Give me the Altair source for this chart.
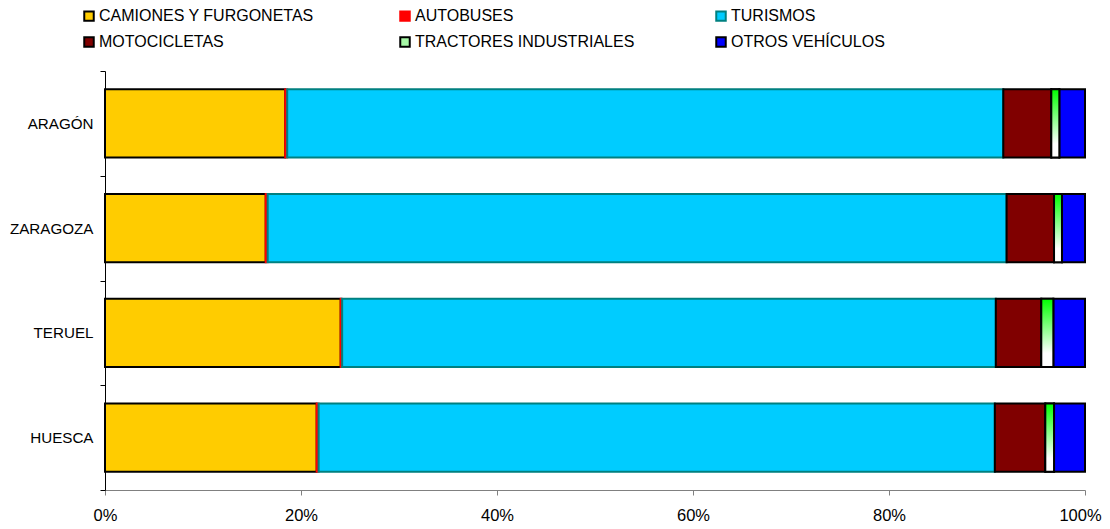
import altair as alt
import pandas as pd

regions = ["ARAGÓN", "ZARAGOZA", "TERUEL", "HUESCA"]
series = ["CAMIONES Y FURGONETAS", "AUTOBUSES", "TURISMOS",
          "MOTOCICLETAS", "TRACTORES INDUSTRIALES", "OTROS VEHÍCULOS"]

camiones = [18.4, 16.4, 24.05, 21.6]
autobuses = [0.2, 0.2, 0.15, 0.2]
turismos = [73.1, 75.4, 66.7, 69.0]
motocicletas = [4.9, 4.84, 4.64, 5.15]
tractores = [0.82, 0.81, 1.23, 0.89]
otros = [2.62, 2.35, 3.23, 3.16]

fills = ["#FFCC00", "#FF0000", "#00CCFF", "#800000", "#A6F7A6", "#0000FF"]
strokes = ["#000000", "#FF0000", "#008080", "#000000", "#000000", "#000000"]

values_by_series = [camiones, autobuses, turismos, motocicletas, tractores, otros]
rows = []
for i, r in enumerate(regions):
    for j, s in enumerate(series):
        rows.append({"region": r, "serie": s, "orden": j, "valor": values_by_series[j][i]})
df = pd.DataFrame(rows)

leg = alt.Legend(
    title=None, orient="none", legendX=-24, legendY=-63, direction="horizontal",
    columns=3, columnPadding=77, rowPadding=8, gridAlign="all",
    symbolType="square", symbolSize=90, symbolStrokeWidth=2,
    labelFontSize=16, labelFont="Liberation Sans", labelColor="black",
    labelOffset=2, padding=0, labelLimit=400,
)

base = alt.Chart(df).transform_stack(
    stack="valor", groupby=["region"],
    sort=[alt.SortField("orden", order="ascending")],
    offset="normalize", as_=["x0", "x1"],
)

x_enc = alt.X(
    "x0:Q",
    scale=alt.Scale(domain=[0, 1], nice=False, zero=True),
    axis=alt.Axis(
        title=None, format=".0%", values=[0, 0.2, 0.4, 0.6, 0.8, 1.0], grid=False,
        domainColor="#808080", tickColor="#808080", tickSize=5, labelPadding=12,
        labelFlush=False,
        labelOffset={"condition": {"test": "datum.value == 1", "value": -5}, "value": 0},
        labelFontSize=16.5, labelFont="Liberation Sans", labelColor="black",
    ),
)
y_enc = alt.Y(
    "region:N", sort=regions,
    scale=alt.Scale(paddingInner=0, paddingOuter=0),
    axis=alt.Axis(
        title=None, tickBand="extent", domainColor="black", tickColor="black",
        tickSize=5, labelPadding=7, labelFontSize=15.2, labelFont="Liberation Sans",
        labelColor="black",
    ),
)

bars = base.mark_bar(strokeWidth=2, opacity=1, height={"band": 0.65}).encode(
    x=x_enc, x2="x1:Q", y=y_enc,
    color=alt.Color("serie:N", scale=alt.Scale(domain=series, range=fills), legend=leg),
    stroke=alt.Stroke("serie:N", scale=alt.Scale(domain=series, range=strokes), legend=leg),
)

grad = base.transform_filter(alt.datum.serie == "TRACTORES INDUSTRIALES").mark_bar(
    fill=alt.Gradient(
        gradient="linear", x1=0, x2=0, y1=0, y2=1,
        stops=[alt.GradientStop(color="#00FF00", offset=0),
               alt.GradientStop(color="#FFFFFF", offset=0.8),
               alt.GradientStop(color="#FFFFFF", offset=1)],
    ),
    stroke="black", strokeWidth=2, height={"band": 0.65},
).encode(x=x_enc, x2="x1:Q", y=y_enc)

chart = alt.layer(bars, grad).properties(
    width=980, height=419,
    autosize=alt.AutoSizeParams(type="none"),
    padding={"left": 97, "top": 63, "right": 17, "bottom": 38},
    background="white",
).configure_view(stroke=None)

chart.save("out.html", embed_options={"renderer": "svg", "actions": False})
